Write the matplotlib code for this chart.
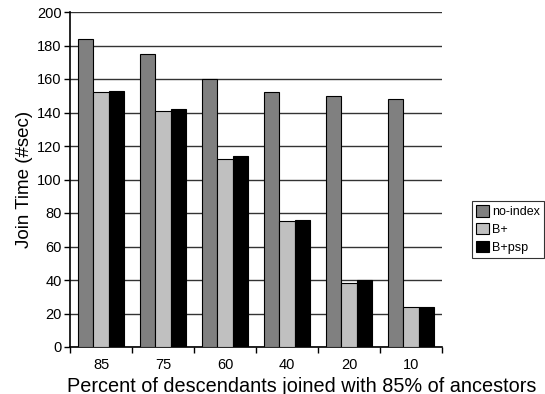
import matplotlib
matplotlib.use("Agg")
import matplotlib.pyplot as plt
import numpy as np

categories = ["85", "75", "60", "40", "20", "10"]
series_names = ["no-index", "B+", "B+psp"]
no_index = [184, 175, 160, 152, 150, 148]
b_plus = [152, 141, 112, 75, 38, 24]
b_plus_psp = [153, 142, 114, 76, 40, 24]
colors = ["#808080", "#c0c0c0", "#000000"]

plt.rcParams['font.family'] = ['Liberation Sans', 'DejaVu Sans']

fig = plt.figure(figsize=(5.45, 3.94), dpi=100)
ax = fig.add_axes([70/545, 1-347/394, 372/545, 335/394])

x = np.arange(len(categories))
w = 0.25
for i, (vals, name, c) in enumerate(zip([no_index, b_plus, b_plus_psp], series_names, colors)):
    ax.bar(x + (i - 1) * w, vals, width=w, color=c, edgecolor="black", linewidth=0.8, label=name, zorder=3)

ax.set_xlim(-0.5, len(categories) - 0.5)
ax.set_ylim(0, 200)
ax.set_yticks(range(0, 201, 20))
ax.yaxis.grid(True, color="#333333", linewidth=1.0, zorder=0)
ax.set_axisbelow(True)

ax.set_xticks(x)
ax.set_xticklabels(categories)
ax.set_xticks(np.arange(-0.5, len(categories), 1.0), minor=True)
ax.tick_params(axis="x", which="major", length=0, pad=8, labelsize=10.5)
ax.tick_params(axis="x", which="minor", length=4, direction="out", width=1)
ax.tick_params(axis="y", length=4, direction="out", width=1, labelsize=10.5, pad=2)

for s in ["top", "right"]:
    ax.spines[s].set_visible(False)
for s in ["left", "bottom"]:
    ax.spines[s].set_linewidth(1.2)

fig.text(302/545, 2.5/394, "Percent of descendants joined with 85% of ancestors",
         fontsize=14.3, ha="center", va="baseline")
ax.set_ylabel("Join Time (#sec)", fontsize=13.5, labelpad=3)

leg = ax.legend(loc="upper left", bbox_to_anchor=(472/545, 1-201/394), bbox_transform=fig.transFigure,
                fontsize=9.0, frameon=True, fancybox=False, edgecolor="black",
                handlelength=1.0, handleheight=1.0, handletextpad=0.25, borderpad=0.35, labelspacing=0.4,
                borderaxespad=0)
leg.get_frame().set_linewidth(0.8)

fig.savefig("out.png", dpi=100)
